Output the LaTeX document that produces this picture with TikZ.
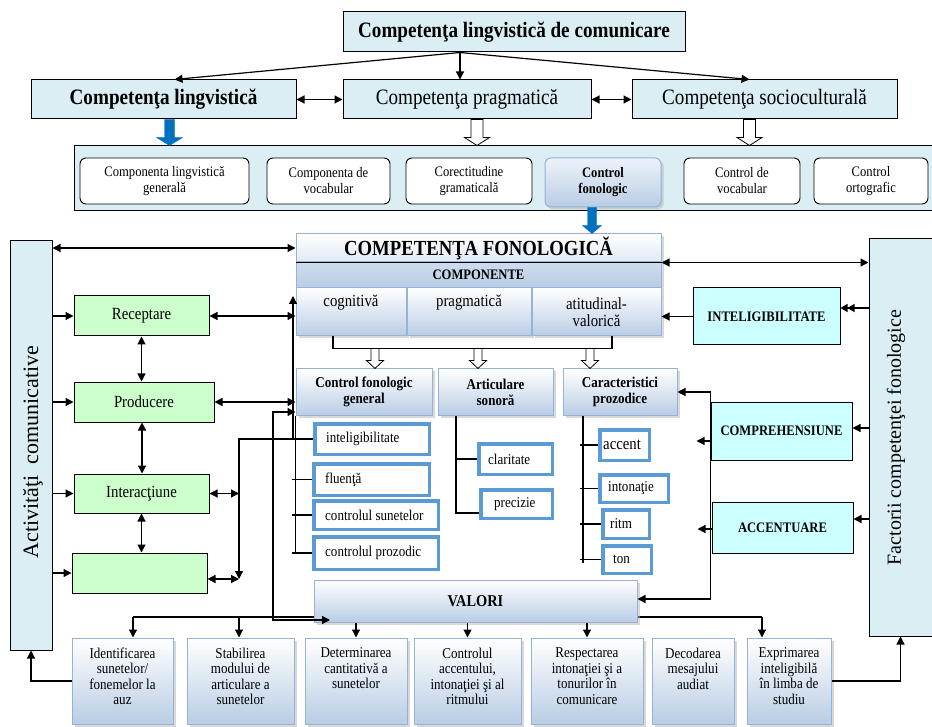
\documentclass[tikz,border=0pt]{standalone}
\usepackage{fontspec}
\setmainfont{Liberation Serif}[FakeStretch=0.87]
\newfontfamily\rotfont{Liberation Serif}
\usetikzlibrary{arrows.meta,shadows,calc}
\definecolor{lbf}{HTML}{DAEEF3}
\definecolor{grf}{HTML}{CCFFCC}
\definecolor{cyf}{HTML}{CCFFFF}
\definecolor{gbot}{HTML}{B9CDE5}
\definecolor{gbord}{HTML}{95B3D7}
\definecolor{itb}{HTML}{5B9BD5}
\definecolor{dkb}{HTML}{0070C0}
\newcommand{\fz}[2]{\fontsize{#1}{#2}\selectfont}
\newcommand{\blk}[5]{\draw[#1] let \p1=#2, \p2=#3 in (\x1-#4,\y1) -- (\x1+#4,\y1) -- (\x1+#4,\y2+8pt) -- (\x1+#5,\y2+8pt) -- (\x1,\y2) -- (\x1-#5,\y2+8pt) -- (\x1-#4,\y2+8pt) -- cycle;}
\tikzset{
 ln/.style={line width=1.2pt},
 arr/.style={ln,-{Triangle[length=8pt,width=8pt]}},
 darr/.style={ln,{Triangle[length=8pt,width=8pt]}-{Triangle[length=8pt,width=8pt]}},
 arrtwo/.style={ln,-{Triangle[length=7pt,width=8pt]Triangle[length=7pt,width=8pt]}},
 tbox/.style={draw,line width=1pt,fill=lbf,inner sep=0pt,align=center},
 gbox/.style={draw=gbord,line width=1pt,top color=white,bottom color=gbot,inner sep=0pt,align=center,drop shadow={shadow xshift=2.5pt,shadow yshift=-2.5pt,fill=black!30,opacity=0.5}},
 rbox/.style={draw,line width=0.9pt,fill=white,rounded corners=6pt,inner sep=0pt,align=center,font=\fz{14.5}{16}},
 gnbox/.style={draw,line width=1pt,fill=grf,inner sep=0pt,font=\fz{17}{18}},
 cybox/.style={draw,line width=1pt,fill=cyf,inner sep=0pt,font=\fz{14.5}{15}\bfseries},
 itbox/.style={draw=itb,line width=3.5pt,fill=white,inner sep=0pt},
 itl/.style={anchor=west,inner sep=0pt,font=\fz{15}{16}},
 btl/.style={anchor=north,inner sep=0pt,align=center,font=\fz{15}{15.5},yshift=-10pt},
 hollow/.style={draw,fill=white,line width=0.8pt},
 bluea/.style={draw=dkb,fill=dkb,line width=0.4pt},
}
\begin{document}
\begin{tikzpicture}[x=1pt,y=-1pt]
\useasboundingbox (0,0) rectangle (932,727);
% ---------- top ----------
\node[tbox,minimum width=342,minimum height=40,font=\fz{22}{24}\bfseries] (title) at (514,32) {Competenţa lingvistică de comunicare};
\node[tbox,minimum width=265,minimum height=39,font=\fz{22}{24}\bfseries] (lingv) at (163.5,99.5) {Competenţa lingvistică};
\node[tbox,minimum width=248,minimum height=39,font=\fz{22}{24}] (pragm) at (467,99.5) {Competenţa pragmatică};
\node[tbox,minimum width=265,minimum height=39,font=\fz{22}{24}] (socio) at (764.5,99.5) {Competenţa socioculturală};
\node[tbox,minimum width=858,minimum height=65] (panel) at (503,178.5) {};
\node[rbox,minimum width=169,minimum height=46] (c1) at (164.5,181) {Componenta lingvistică\\generală};
\node[rbox,minimum width=123,minimum height=46] (c2) at (328.5,181) {Componenta de\\vocabular};
\node[rbox,minimum width=126,minimum height=46] (c3) at (469,181) {Corectitudine\\gramaticală};
\node[gbox,rounded corners=6pt,minimum width=116,minimum height=49,top color=gbot!25,font=\fz{14.5}{16}\bfseries] (c4) at (603,182.5) {Control\\fonologic};
\node[rbox,minimum width=116,minimum height=46] (c5) at (742,181) {Control de\\vocabular};
\node[rbox,minimum width=114,minimum height=46] (c6) at (871,181) {Control\\ortografic};
\path ([xshift=-54pt]title.south) coordinate (ts);
\draw[arr] (ts) -- ([xshift=11pt]lingv.north);
\draw[arr] (ts) -- (ts |- pragm.north);
\draw[arr] (ts) -- ([xshift=-15pt]socio.north);
\draw[darr] (lingv.east) -- (pragm.west);
\draw[darr] (pragm.east) -- (socio.west);
\path ([xshift=6pt]lingv.south) coordinate (a1);
\path ([xshift=10pt]pragm.south) coordinate (a2);
\path ([xshift=-15pt]socio.south) coordinate (a3);
\blk{bluea}{(a1)}{(a1 |- panel.north)}{5pt}{13pt}
\blk{hollow}{(a2)}{(a2 |- panel.north)}{6pt}{12.5pt}
\blk{hollow}{(a3)}{(a3 |- panel.north)}{6pt}{12.5pt}
% ---------- side boxes ----------
\node[tbox,minimum width=42,minimum height=409] (act) at (31,445.5) {};
\node[rotate=90,inner sep=0pt,font=\rotfont\fz{22}{22}] (actt) at (33,452) {Activităţi\hspace{0.5em}comunicative};
\node[tbox,minimum width=63,minimum height=397] (fact) at (900.5,437.5) {};
\node[rotate=90,inner sep=0pt,font=\rotfont\fz{20}{20}] (factt) at (896,437.5) {Factorii competenţei fonologice};
% ---------- competenta fonologica ----------
\node[gbox,minimum width=365,minimum height=28,bottom color=gbot!45,font=\fz{21.5}{22}\bfseries] (cft) at (478.5,248) {COMPETENŢA FONOLOGICĂ};
\node[gbox,minimum width=365,minimum height=26,top color=gbot!70,bottom color=gbot,font=\fz{14.5}{15}\bfseries] (comp) at (478.5,275) {COMPONENTE};
\node[gbox,minimum width=110,minimum height=48,font=\fz{17}{17}] (cog) at (351,312) {cognitivă\\\strut};
\node[gbox,minimum width=124,minimum height=48,font=\fz{17}{17}] (prg) at (469,312) {pragmatică\\\strut};
\node[gbox,minimum width=129,minimum height=48,font=\fz{17}{17}] (att) at (596.5,312) {atitudinal-\\valorică};
\draw[ln] (cft.south west) -- (cft.south east);
\blk{bluea}{([xshift=-11pt]c4.south)}{([xshift=-11pt]c4.south |- cft.north)}{4.5pt}{9.5pt}
% level 3
\node[gbox,minimum width=136,minimum height=46,font=\fz{15}{16}\bfseries] (cfg) at (364,392) {Control fonologic\\general};
\node[gbox,minimum width=115,minimum height=46,font=\fz{15}{16}\bfseries] (art) at (495.5,392) {Articulare\\sonoră};
\node[gbox,minimum width=114,minimum height=46,font=\fz{15}{16}\bfseries] (cpz) at (620,392) {Caracteristici\\prozodice};
\path (cog.south) ++(-18,0) coordinate (br1);
\path (att.south) ++(15.5,0) coordinate (br2);
\draw[ln] (br1) -- ++(0,12) -| (br2);
\path (br1) ++(42,12) coordinate (h1);
\path (br1) ++(145,12) coordinate (h2);
\path (br1) ++(257,12) coordinate (h3);
\blk{hollow}{(h1)}{(h1 |- cfg.north)}{4pt}{8.5pt}
\blk{hollow}{(h2)}{(h2 |- cfg.north)}{4pt}{8.5pt}
\blk{hollow}{(h3)}{(h3 |- cfg.north)}{4pt}{8.5pt}
% items
\node[itbox,minimum width=114.5,minimum height=30.5,label={[itl,xshift=13pt]west:inteligibilitate}] (i1) at (372,439) {};
\node[itbox,minimum width=115.5,minimum height=31.5,label={[itl,xshift=13pt]west:fluenţă}] (i2) at (371.5,479.5) {};
\node[itbox,minimum width=124.5,minimum height=28.5,label={[itl,xshift=13pt]west:controlul sunetelor}] (i3) at (376,515) {};
\node[itbox,minimum width=124.5,minimum height=32.5,label={[itl,xshift=13pt]west:controlul prozodic}] (i4) at (376,553) {};
\node[itbox,minimum width=73.5,minimum height=30.5,label={[itl,xshift=11pt]west:claritate}] (a1n) at (515.5,459) {};
\node[itbox,minimum width=71.5,minimum height=28.5,label={[itl,xshift=15pt]west:precizie}] (a2n) at (516.5,504) {};
\node[itbox,minimum width=49.5,minimum height=30.5,label={[itl,xshift=5pt,font=\fz{17}{17}]west:accent}] (p1) at (624.5,445) {};
\node[itbox,minimum width=68.5,minimum height=27.5,label={[itl,xshift=10pt]west:intonaţie}] (p2) at (634,488.5) {};
\node[itbox,minimum width=46.5,minimum height=28.5,label={[itl,xshift=9pt]west:ritm}] (p3) at (626,524) {};
\node[itbox,minimum width=48.5,minimum height=27.5,label={[itl,xshift=12pt]west:ton}] (p4) at (627,559.5) {};
% trees
\path (cfg.south west) ++(-4,0) coordinate (t1);
\draw[ln] (cfg.south west) -- (cfg.south west |- i4.west);
\foreach \n in {i2,i3,i4} \draw[ln] (t1 |- \n.west) -- (\n.west);
\path (art.south) ++(-39.5,0) coordinate (t2);
\path ([yshift=-9pt]a2n.west) coordinate (a2w);
\draw[ln] (t2) |- (a2w);
\draw[ln] (t2 |- a1n.west) -- (a1n.west);
\path (cpz.south) ++(-37,0) coordinate (t3);
\draw[ln] (t3) -- ($(t3 |- p4.west)+(0,3)$);
\foreach \n in {p1,p2,p3,p4} \draw[ln] ($(t3 |- \n.west)+(-3,0)$) -- (\n.west);
% green boxes
\node[gnbox,minimum width=135,minimum height=40] (rec) at (141.5,316) {Receptare};
\node[gnbox,minimum width=140,minimum height=40] (prod) at (144,402) {Producere};
\node[gnbox,minimum width=135,minimum height=39] (inter) at (141.5,493.5) {Interacţiune};
\node[gnbox,minimum width=135,minimum height=40] (empt) at (139.5,573) {};
% cyan boxes
\node[cybox,minimum width=147,minimum height=57] (intel) at (766.5,316.5) {INTELIGIBILITATE};
\node[cybox,minimum width=141,minimum height=58] (compr) at (781.5,431) {COMPREHENSIUNE};
\node[cybox,minimum width=141,minimum height=51] (accn) at (782.5,527.5) {ACCENTUARE};
% bottom boxes
\node[gbox,minimum width=101,minimum height=86,label={[btl]north:{Identificarea\\sunetelor/\\fonemelor la\\auz}}] (b1) at (122.5,681) {};
\node[gbox,minimum width=107,minimum height=86,label={[btl]north:{Stabilirea\\modului de\\articulare a\\sunetelor}}] (b2) at (240.5,681) {};
\node[gbox,minimum width=102,minimum height=86,label={[btl]north:{Determinarea\\cantitativă a\\sunetelor}}] (b3) at (356,681) {};
\node[gbox,minimum width=107,minimum height=86,label={[btl]north:{Controlul\\accentului,\\intonaţiei şi al\\ritmului}}] (b4) at (467.5,681) {};
\node[gbox,minimum width=112,minimum height=86,label={[btl]north:{Respectarea\\intonaţiei şi a\\tonurilor în\\comunicare}}] (b5) at (587,681) {};
\node[gbox,minimum width=82,minimum height=86,label={[btl]north:{Decodarea\\mesajului\\audiat}}] (b6) at (693,681) {};
\node[gbox,minimum width=84,minimum height=86,label={[btl]north:{Exprimarea\\inteligibilă\\în limba de\\studiu}}] (b7) at (789,681) {};
% line behind VALORI
\coordinate (m1) at (133,617);
\coordinate (m2) at (239,617);
\coordinate (m7) at (762,617);
\draw[ln] (m1) -- (m7);
\draw[arr] (m1) -- (m1 |- b1.north);
\draw[arr] (m2) -- (m2 |- b2.north);
\draw[arr] (m7) -- (m7 |- b7.north);
\node[gbox,minimum width=323,minimum height=42,font=\fz{16.5}{17}\bfseries] (valori) at (475.5,601) {VALORI};
\foreach \n in {b3,b4,b5} \draw[arr] (valori.south -| \n.north) -- (\n.north);
% ---------- connectors ----------
\draw[darr] (act.east |- cft.west) -- (cft.west);
\draw[darr] (cft.south east) -- (cft.south east -| fact.west);
\foreach \n in {rec,prod,inter,empt} \draw[arr] (act.east |- \n.west) -- (\n.west);
\draw[darr] (rec.south) -- (rec.south |- prod.north);
\draw[darr] ([xshift=-2pt]prod.south) -- ([xshift=-2pt]prod.south |- inter.north);
\draw[darr] (inter.south) -- (inter.south |- empt.north);
\draw[darr] (rec.east) -- (rec.east -| cog.west);
\draw[darr] (prod.east) -- (prod.east -| cfg.west);
\path (i1.west) ++(-74,0) coordinate (j1);
\path (i1.west) ++(-20,0) coordinate (j2);
\draw[arr] (i1.west) -- (j1) -- ++(0,140);
\draw[arr] (j2) -- ++(0,-143);
\draw[darr] (inter.east) -- (inter.east -| j1);
\path ([yshift=-6pt]empt.east) coordinate (e1);
\draw[darr] (e1) -- (e1 -| j1);
\coordinate (k1) at (273,412);
\coordinate (k2) at (273,620);
\draw[darr] (k1 -| cfg.west) -- (k1) -- (k2) -- ++(57,0);
\path (cpz.east -| compr.west) coordinate (r1);
\path (r1) ++(0,207) coordinate (r2);
\draw[darr] (cpz.east) -- (r1) -- (r2) -- (r2 -| valori.east);
\draw[arr] ([yshift=-10pt]compr.west) -- ++(-14,0);
\draw[arr] ([yshift=-1.5pt]accn.west) -- ++(-14,0);
\path ([yshift=8.5pt]intel.east) coordinate (q1);
\draw[arrtwo] (q1 -| fact.west) -- (q1);
\draw[arr] (intel.west) -- (intel.west -| att.east);
\path ([yshift=3pt]compr.east) coordinate (q2);
\draw[arr] (q2 -| fact.west) -- (q2);
\path ([yshift=8.5pt]accn.east) coordinate (q3);
\draw[arr] (q3 -| fact.west) -- (q3);
\draw[arr] (b1.west) -| (act.south);
\draw[arr] (b7.east) -| (fact.south);
\end{tikzpicture}
\end{document}
